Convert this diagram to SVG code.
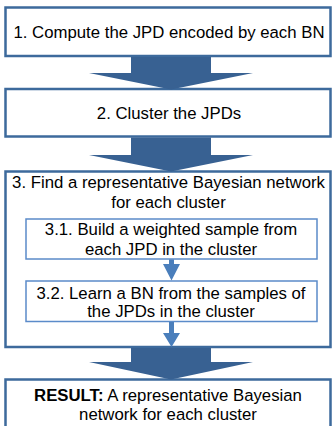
<svg xmlns="http://www.w3.org/2000/svg" width="332" height="426" viewBox="0 0 332 426">
  <style>
    .step { fill: #ffffff; stroke: #3d6a9c; stroke-width: 2.5; }
    .sub { fill: #ffffff; stroke: #5b8bc9; stroke-width: 1.5; }
    .big-arrow { fill: #386192; }
    .small-arrow { fill: #4a7ebb; }
    text { font-family: "Liberation Sans", Arial, sans-serif; font-size: 16.75px; fill: #000000; text-anchor: middle; }
    .bold { font-weight: bold; }
  </style>

  <g id="step1">
    <rect class="step" x="5.5" y="7.5" width="325" height="48.5"/>
    <text x="169" y="38">1. Compute the JPD encoded by each BN</text>
  </g>

  <g id="step2">
    <rect class="step" x="5.5" y="89" width="325" height="47.5"/>
    <text x="169" y="119">2. Cluster the JPDs</text>
  </g>

  <g id="step3">
    <rect class="step" x="5.5" y="171.5" width="325" height="175.5"/>
    <text x="168.5" y="187.5">3. Find a representative Bayesian network</text>
    <text x="168.5" y="207.5">for each cluster</text>
  </g>

  <g id="step3-1">
    <rect class="sub" x="26" y="219" width="291" height="40"/>
    <text x="171" y="234.5">3.1. Build a weighted sample from</text>
    <text x="171" y="254.5">each JPD in the cluster</text>
  </g>

  <g id="step3-2">
    <rect class="sub" x="26" y="281" width="291" height="40.5"/>
    <text x="171" y="298.5">3.2. Learn a BN from the samples of</text>
    <text x="171" y="316.5">the JPDs in the cluster</text>
  </g>

  <g id="result">
    <rect class="step" x="5.5" y="379.5" width="325" height="60"/>
    <text x="168" y="401"><tspan class="bold">RESULT:</tspan> A representative Bayesian</text>
    <text x="168" y="420">network for each cluster</text>
  </g>

  <!-- block arrows between the steps, drawn on top of the boxes -->
  <g id="connectors">
    <polygon class="big-arrow" points="131,57 211,57 211,73 253,73 171,89.5 89,73 131,73"/>
    <polygon class="big-arrow" points="131,137.5 211,137.5 211,155 253,155 171,171.5 89,155 131,155"/>
    <polygon class="big-arrow" points="131,348 211,348 211,362 253,362 171,379.5 89,362 131,362"/>
    <polygon class="small-arrow" points="169,259.5 174,259.5 174,264 180,264 171.5,280.5 163,264 169,264"/>
    <polygon class="small-arrow" points="169,322 174,322 174,333 180,333 171.5,347 163,333 169,333"/>
  </g>
</svg>
